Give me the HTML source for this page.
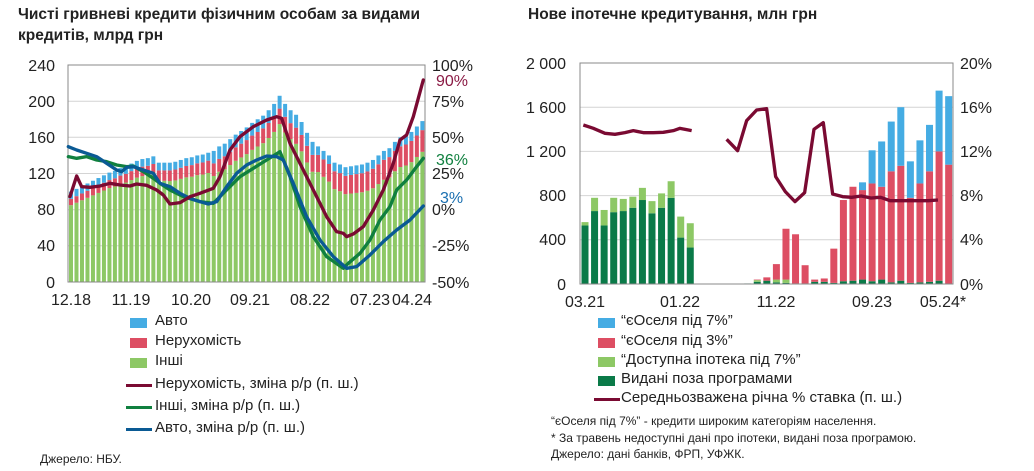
<!DOCTYPE html>
<html><head><meta charset="utf-8"><style>
body{margin:0;width:1034px;height:471px;background:#fff;font-family:"Liberation Sans",sans-serif;color:#222;position:relative;overflow:hidden}
.t{position:absolute;white-space:nowrap}
.ttl{font-weight:bold;font-size:15.5px;line-height:21px}
.lg{font-size:15px}
.sw{position:absolute;width:17px;height:10px}
.fn{font-size:12px}
</style></head><body>
<div class="t ttl" style="left:18px;top:4px">Чисті гривневі кредити фізичним особам за видами<br>кредитів, млрд грн</div>
<div class="t ttl" style="left:528px;top:4px">Нове іпотечне кредитування, млн грн</div>
<svg width="1034" height="471" style="position:absolute;left:0;top:0" font-family="Liberation Sans, sans-serif" font-size="16" fill="#222">
<g stroke="#d4d4d4" stroke-width="1">
<line x1="68" x2="425" y1="65" y2="65"/><line x1="68" x2="425" y1="101.2" y2="101.2"/><line x1="68" x2="425" y1="137.3" y2="137.3"/><line x1="68" x2="425" y1="173.5" y2="173.5"/><line x1="68" x2="425" y1="209.7" y2="209.7"/><line x1="68" x2="425" y1="245.8" y2="245.8"/>
<line x1="580" x2="953" y1="63" y2="63"/><line x1="580" x2="953" y1="107.2" y2="107.2"/><line x1="580" x2="953" y1="151.4" y2="151.4"/><line x1="580" x2="953" y1="195.6" y2="195.6"/><line x1="580" x2="953" y1="239.8" y2="239.8"/>
</g>
<g id="lb"></g><g id="rb"></g>
<rect x="68" y="65" width="357" height="217" fill="none" stroke="#888"/>
<rect x="580" y="63" width="373" height="221" fill="none" stroke="#888"/>
<g transform="translate(0,50) scale(0.3333)" fill="none" stroke-width="10" stroke-linejoin="round" stroke-linecap="round">
<polyline stroke="#10803f" points="205,320 230,325 260,320 290,330 320,335 350,345 380,350 400,348 430,365 460,385 480,400 510,420 550,440 600,455 640,460 680,420 720,380 760,355 800,330 840,305 870,380 900,470 940,560 980,620 1030,655 1045,640 1080,610 1110,570 1140,510 1170,470 1190,420 1220,390 1250,350 1270,325"/>
<polyline stroke="#0a5a94" points="205,290 230,300 260,310 290,320 320,340 350,360 365,365 380,352 400,350 430,360 460,370 480,400 510,410 540,430 570,445 600,455 625,462 650,455 680,410 710,370 740,345 770,330 800,318 830,320 850,330 880,400 920,500 960,570 1000,620 1040,655 1070,650 1110,615 1150,575 1190,540 1230,510 1270,468"/>
<polyline stroke="#7a0a32" points="210,440 230,378 245,410 270,412 300,408 330,400 360,405 390,408 410,402 440,406 470,420 490,435 510,462 540,458 570,440 600,430 640,415 660,380 690,300 720,260 760,230 800,210 830,200 845,205 870,280 900,340 940,420 980,500 1010,545 1030,550 1040,560 1060,552 1090,530 1120,480 1150,420 1180,340 1200,270 1220,255 1240,200 1270,90"/>
</g>
<g transform="translate(510,50) scale(0.3333)" fill="none" stroke="#7a0a32" stroke-width="10" stroke-linejoin="round">
<polyline points="220,225 250,235 285,250 315,253 345,248 370,242 400,248 430,248 460,247 490,242 510,235 545,242"/>
<polyline points="650,268 683,302 710,212 740,180 770,176 797,380 826,425 855,455 884,428 912,238 940,218 968,432 998,440 1025,442 1054,438 1083,444 1112,442 1140,452 1170,452 1198,452 1226,452 1255,452 1284,450"/>
</g>
<g text-anchor="end">
<text x="55" y="71">240</text><text x="55" y="107">200</text><text x="55" y="143">160</text><text x="55" y="179">120</text><text x="55" y="215">80</text><text x="55" y="251">40</text><text x="55" y="288">0</text>
<text x="566" y="69">2 000</text><text x="566" y="113">1 600</text><text x="566" y="157">1 200</text><text x="566" y="201">800</text><text x="566" y="245">400</text><text x="566" y="290">0</text>
</g>
<text x="432" y="71">100%</text><text x="432" y="107">75%</text><text x="432" y="143">50%</text><text x="432" y="179">25%</text><text x="432" y="215">0%</text><text x="432" y="251">-25%</text><text x="432" y="288">-50%</text>
<text x="436" y="86" fill="#8a1a44">90%</text><text x="436" y="165" fill="#10803f">36%</text><text x="440" y="203" fill="#1a6fb0">3%</text>
<text x="960" y="69">20%</text><text x="960" y="113">16%</text><text x="960" y="157">12%</text><text x="960" y="201">8%</text><text x="960" y="245">4%</text><text x="960" y="290">0%</text>
<g text-anchor="middle">
<text x="71" y="305">12.18</text><text x="131" y="305">11.19</text><text x="191" y="305">10.20</text><text x="250" y="305">09.21</text><text x="310" y="305">08.22</text><text x="370" y="305">07.23</text><text x="412" y="305">04.24</text>
<text x="585" y="307">03.21</text><text x="680" y="307">01.22</text><text x="776" y="307">11.22</text><text x="872" y="307">09.23</text><text x="943" y="307">05.24*</text>
</g>
</svg>
<div class="sw" style="left:130px;top:318px;background:#45ace3"></div><div class="t lg" style="left:155px;top:312px">Авто</div>
<div class="sw" style="left:130px;top:338px;background:#dd4e63"></div><div class="t lg" style="left:155px;top:332px">Нерухомість</div>
<div class="sw" style="left:130px;top:358px;background:#8dc865"></div><div class="t lg" style="left:155px;top:352px">Інші</div>
<div class="sw" style="left:126px;top:384px;width:26px;height:3px;background:#7a0a32"></div><div class="t lg" style="left:155px;top:375px">Нерухомість, зміна р/р (п. ш.)</div>
<div class="sw" style="left:126px;top:406px;width:26px;height:3px;background:#10803f"></div><div class="t lg" style="left:155px;top:397px">Інші, зміна р/р (п. ш.)</div>
<div class="sw" style="left:126px;top:428px;width:26px;height:3px;background:#0a5a94"></div><div class="t lg" style="left:155px;top:419px">Авто, зміна р/р (п. ш.)</div>
<div class="t fn" style="left:40px;top:452px">Джерело: НБУ.</div>
<div class="sw" style="left:598px;top:318px;background:#45ace3"></div><div class="t lg" style="left:621px;top:312px">“єОселя під 7%”</div>
<div class="sw" style="left:598px;top:338px;background:#dd4e63"></div><div class="t lg" style="left:621px;top:332px">“єОселя під 3%”</div>
<div class="sw" style="left:598px;top:357px;background:#8dc865"></div><div class="t lg" style="left:621px;top:351px">“Доступна іпотека під 7%”</div>
<div class="sw" style="left:598px;top:376px;background:#0a7a48"></div><div class="t lg" style="left:621px;top:370px">Видані поза програмами</div>
<div class="sw" style="left:594px;top:398px;width:26px;height:3px;background:#7a0a32"></div><div class="t lg" style="left:621px;top:389px">Середньозважена річна % ставка (п. ш.)</div>
<div class="t fn" style="left:551px;top:414px">“єОселя під 7%” - кредити широким категоріям населення.</div>
<div class="t fn" style="left:551px;top:431px">* За травень недоступні дані про іпотеки, видані поза програмою.</div>
<div class="t fn" style="left:551px;top:447px">Джерело: дані банків, ФРП, УФЖК.</div>
<script>
var NS="http://www.w3.org/2000/svg";
function r(g,x,y,w,h,c){if(h<=0)return;var e=document.createElementNS(NS,"rect");e.setAttribute("x",x);e.setAttribute("y",y);e.setAttribute("width",w);e.setAttribute("height",h);e.setAttribute("fill",c);g.appendChild(e);}
var tot=[100,103,106,109,112,115,118,121,123,126,128,131,134,136,137,139,132,132,132,133,135,137,138,140,141,143,145,150,153,158,163,167,171,176,180,184,190,197,206,197,190,185,177,165,155,150,145,140,132,130,127,128,129,130,132,135,140,145,148,155,160,162,166,172,178];
var lb=document.getElementById("lb");
for(var i=0;i<65;i++){var t=tot[i],f=i/64;var re=7+f*17,bl=5+(i>25&&i<45?8:3)+f*2;var gr=t-re-bl;var x=69+i*5.49;var s=function(v){return v*0.904};
var y0=282;r(lb,x,y0-s(gr),4,s(gr),"#8dc865");r(lb,x,y0-s(gr+re),4,s(re),"#dd4e63");r(lb,x,y0-s(t),4,s(bl),"#45ace3");}
var rb=document.getElementById("rb");
var d={0:[530,30,0,0],1:[660,120,0,0],2:[530,140,0,0],3:[650,130,0,0],4:[660,110,0,0],5:[690,100,0,0],6:[760,110,0,0],7:[640,110,0,0],8:[690,130,0,0],9:[780,150,0,0],10:[420,190,0,0],11:[330,220,0,0],
17:[5,0,0,0],18:[20,15,5,0],19:[30,0,30,0],20:[15,25,140,0],21:[10,30,460,0],22:[5,0,445,0],23:[5,0,165,0],24:[20,0,20,0],25:[20,0,30,0],26:[10,0,310,0],27:[25,0,735,0],28:[30,0,850,0],29:[40,0,810,70],30:[25,0,885,300],31:[40,0,840,410],32:[15,0,1005,450],33:[30,0,1040,530],34:[10,0,770,330],35:[15,0,895,390],36:[20,0,1000,420],37:[30,0,1170,550],38:[0,0,1080,620]};
var cols=["#0a7a48","#8dc865","#dd4e63","#45ace3"];
for(var k in d){var x=581.5+k*9.57,y=284,a=d[k];for(var j=0;j<4;j++){var h=a[j]*0.1105;r(rb,x,y-h,7,h,cols[j]);y-=h;}}
</script>
</body></html>
